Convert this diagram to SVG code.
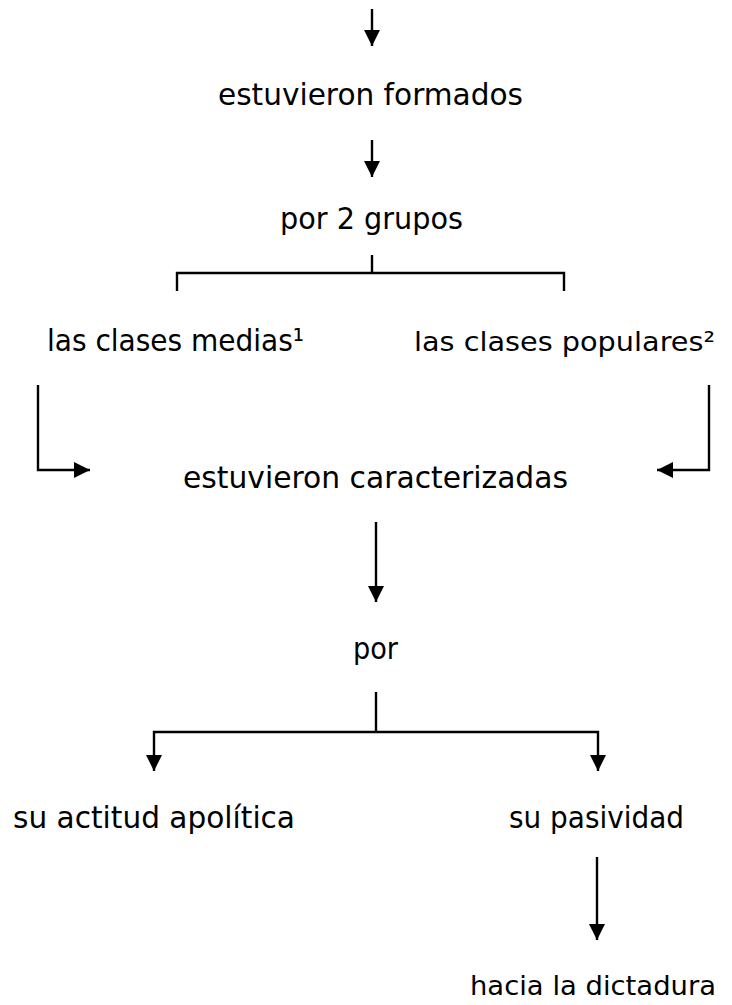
<svg xmlns="http://www.w3.org/2000/svg" width="732" height="1005" viewBox="0 0 732 1005">
<style>
text{font-family:"DejaVu Sans","Noto Sans",sans-serif;font-size:31px;fill:#000}
.e{text-anchor:end;font-size:27px}
.c{fill:none;stroke:#000;stroke-width:2.4}
.a{marker-end:url(#ah)}
</style>
<defs>
<marker id="ah" markerUnits="userSpaceOnUse" markerWidth="16" markerHeight="16" refX="16" refY="8" orient="auto">
<path d="M0,0 L16,8 L0,16 z" fill="#000"/>
</marker>
</defs>
<rect width="732" height="1005" fill="#fff"/>
<g id="connectors">
<path class="c a" d="M372 9 V46"/>
<path class="c a" d="M372 140 V177"/>
<path class="c" d="M372 255 V273 M177 291 V273 H564 V291"/>
<path class="c a" d="M38 385 V470 H90"/>
<path class="c a" d="M709 385 V470 H657"/>
<path class="c a" d="M376 522 V602"/>
<path class="c" d="M376 692 V732"/>
<path class="c a" d="M376 732 H154 V771"/>
<path class="c a" d="M376 732 H598 V771"/>
<path class="c a" d="M597 857 V940"/>
</g>
<g id="n1"><text x="218" y="105" textLength="305" lengthAdjust="spacingAndGlyphs">estuvieron formados</text></g>
<g id="n2"><text x="280" y="229" textLength="183" lengthAdjust="spacingAndGlyphs">por 2 grupos</text></g>
<g id="n3"><text x="47" y="351" textLength="257" lengthAdjust="spacingAndGlyphs">las clases medias¹</text></g>
<g id="n4"><text class="e" x="715" y="351" textLength="301" lengthAdjust="spacingAndGlyphs">las clases populares²</text></g>
<g id="n5"><text x="183" y="488" textLength="385" lengthAdjust="spacingAndGlyphs">estuvieron caracterizadas</text></g>
<g id="n6"><text x="353" y="659" textLength="45" lengthAdjust="spacingAndGlyphs">por</text></g>
<g id="n7"><text x="13" y="828" textLength="282" lengthAdjust="spacingAndGlyphs">su actitud apolítica</text></g>
<g id="n8"><text x="509" y="828" textLength="175" lengthAdjust="spacingAndGlyphs">su pasividad</text></g>
<g id="n9"><text class="e" x="716" y="995" textLength="246" lengthAdjust="spacingAndGlyphs">hacia la dictadura</text></g>
</svg>
